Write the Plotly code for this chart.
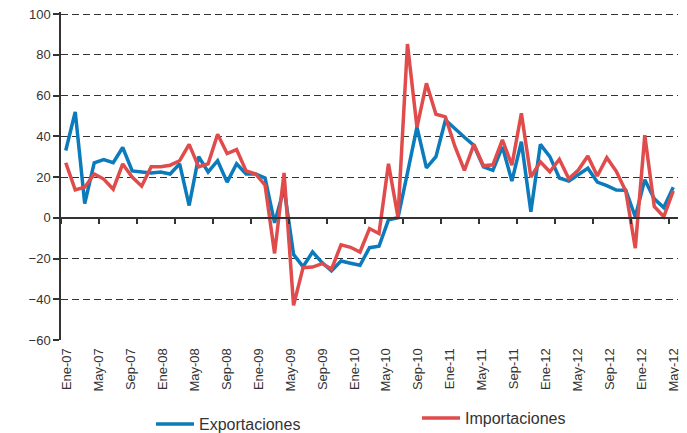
import plotly.graph_objects as go

# Tasa de variación interanual (%), mensual Ene-07 ... May-12
exportaciones = [
    33, 52, 7, 27, 28.5, 27, 34.5, 23, 22.5, 22, 22.5, 21.5, 26.5, 6, 30, 22.5,
    28, 17.5, 26.5, 21.5, 21.5, 19.5, -2.5, 14.5, -18, -24, -16.8, -22, -26, -21.2,
    -22.3, -23.3, -14.7, -14, -1, 0, 22, 44.5, 24.5, 30, 48, 43.5, 39.5, 35.5, 25,
    23.3, 34.8, 18, 37.3, 3, 36, 30, 19.5, 18, 21, 24.3, 17.5, 15.8, 13.6, 13.5,
    0.5, 18.7, 9.3, 5, 15,
]
importaciones = [
    27, 13.7, 15, 21.5, 19, 14, 26.4, 20, 15.5, 25, 25, 25.8, 28, 36, 25, 26.5,
    41, 31.5, 33.5, 23, 21.5, 16, -17.5, 22, -43, -24.5, -24.2, -22.5, -25.2, -13.3,
    -14.5, -16.8, -5.3, -7.7, 26.5, 0.3, 85.3, 44.4, 66, 50.8, 49.5, 35, 23.3, 36,
    25.5, 26, 38.2, 25.8, 51.3, 20, 27.5, 22.6, 28.7, 19.1, 23.4, 30.3, 20.5, 29.5,
    22.8, 13, -14.9, 40.5, 5.5, 0.5, 13.2,
]
etiquetas = [
    "Ene-07", "May-07", "Sep-07", "Ene-08", "May-08", "Sep-08", "Ene-09",
    "May-09", "Sep-09", "Ene-10", "May-10", "Sep-10", "Ene-11", "May-11",
    "Sep-11", "Ene-12", "May-12", "Sep-12", "Ene-12", "May-12",
]

meses = list(range(len(exportaciones)))
n = len(meses)

# tick marks between categories every 4 months; labels spread evenly (as in the original Excel chart)
tick_marks = [k - 0.5 for k in range(0, n + 1, 4)]
step = (64.03 - 0.13) / (len(etiquetas) - 1)
label_pos = [0.13 + step * i for i in range(len(etiquetas))]

fig = go.Figure()
fig.add_trace(go.Scatter(
    x=meses, y=exportaciones, mode='lines', name='Exportaciones',
    line=dict(color='#0b7bbb', width=3.5), legend='legend'
))
fig.add_trace(go.Scatter(
    x=meses, y=importaciones, mode='lines', name='Importaciones',
    line=dict(color='#e04b4b', width=3.5), legend='legend2'
))
# invisible trace so the label axis is drawn
fig.add_trace(go.Scatter(
    x=[label_pos[0]], y=[0], xaxis='x2', mode='markers',
    marker=dict(opacity=0), showlegend=False, hoverinfo='skip'
))

font = dict(family='Liberation Sans, Arial, sans-serif', size=13, color='#333333')
legend_font = dict(family='Liberation Sans, Arial, sans-serif', size=16, color='#333333')

# page has an 8px body margin, so the figure is 8px smaller than the window
W, H = 679, 425
y_min, y_max = -60, 101  # a hair above 100 so the top gridline is drawn

fig.update_layout(
    width=W, height=H,
    margin=dict(l=53, r=9, t=4, b=93, autoexpand=False),
    paper_bgcolor='white', plot_bgcolor='white',
    font=font,
    xaxis=dict(
        range=[-0.5, n - 0.5], anchor='free', position=(0 - y_min) / (y_max - y_min),
        showline=True, linecolor='#333333', linewidth=1.5,
        ticks='outside', ticklen=5, tickcolor='#333333', tickwidth=1.5,
        tickvals=tick_marks, showticklabels=False,
        showgrid=False, zeroline=False,
    ),
    xaxis2=dict(
        range=[-0.5, n - 0.5], overlaying='x', anchor='y', side='bottom',
        tickvals=label_pos, ticktext=etiquetas, tickangle=-90,
        ticks='outside', ticklen=2, tickcolor='rgba(0,0,0,0)',
        showline=False, showgrid=False, zeroline=False,
        tickfont=font, ticklabeloverflow='allow',
    ),
    yaxis=dict(
        range=[y_min, y_max], tickvals=list(range(-60, 101, 20)),
        showline=True, linecolor='#333333', linewidth=1.5,
        ticks='outside', ticklen=6, tickcolor='#333333', tickwidth=1.5,
        showgrid=True, gridcolor='#333333', gridwidth=1, griddash='7px,4px',
        zeroline=False, tickfont=font, ticklabeloverflow='allow',
    ),
    legend=dict(
        xref='container', yref='container', x=143 / W, y=1 - 416 / H,
        xanchor='left', yanchor='middle', bgcolor='rgba(0,0,0,0)',
        itemwidth=38, font=legend_font,
    ),
    legend2=dict(
        xref='container', yref='container', x=409 / W, y=1 - 410 / H,
        xanchor='left', yanchor='middle', bgcolor='rgba(0,0,0,0)',
        itemwidth=38, font=legend_font,
    ),
)

fig.write_html("out.html")
